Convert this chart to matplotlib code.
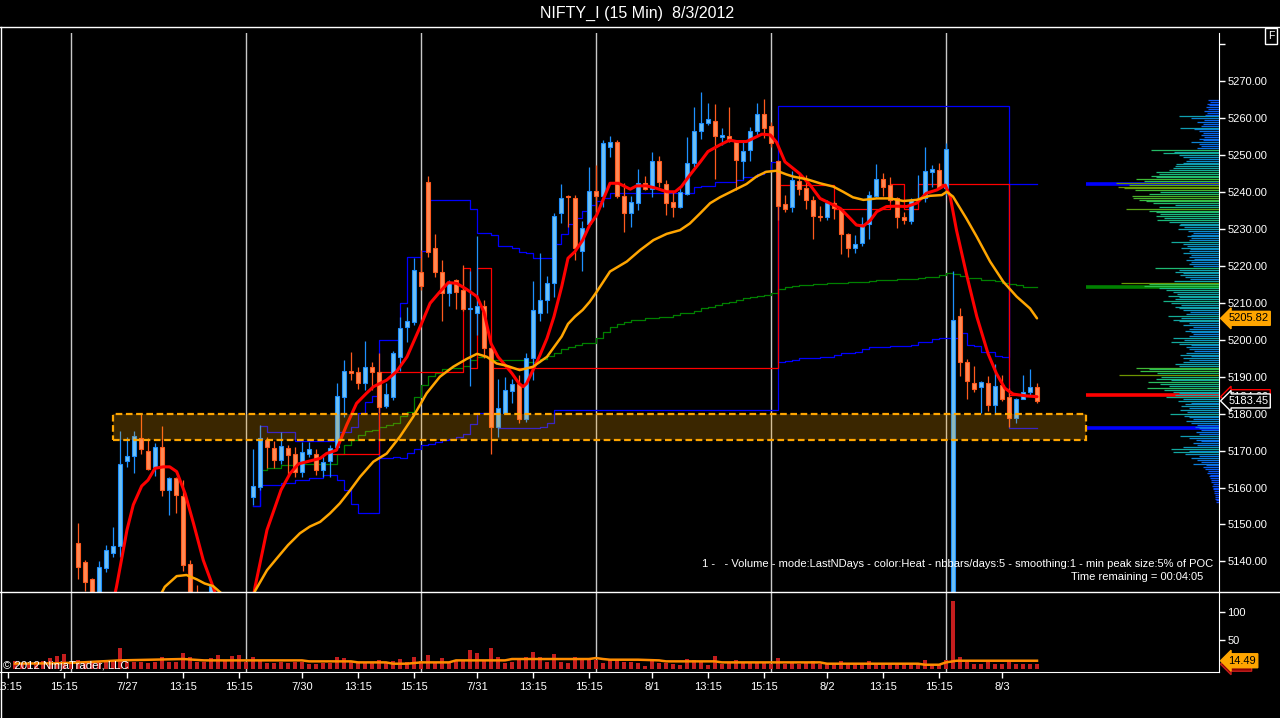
import numpy as np
import matplotlib
matplotlib.use('Agg')
import matplotlib.pyplot as plt
from matplotlib.patches import Rectangle
from matplotlib.lines import Line2D
from matplotlib.colors import LinearSegmentedColormap

plt.rcParams['font.family'] = ['Liberation Sans', 'DejaVu Sans']

# ---------------- data ----------------
# bar index: 0 = 15:30 bar of 7/26, each session has 25 bars (9:30 .. 15:30)
bar_n = list(range(-8, 139))

opens = [5120, 5118, 5119, 5121, 5119, 5124, 5122, 5125, 5123,
         5144.9, 5139.9, 5135.1, 5130.0, 5138.3, 5142.3, 5144.1, 5167.3, 5168.4, 5173.3,
         5170.0, 5165.5, 5171.1, 5159.2, 5162.5, 5157.6, 5139.2, 5129.5, 5126.0, 5124.0,
         5131.0, 5124.0, 5121.0, 5123.0, 5120.0, 5157.3, 5160.2, 5173.0, 5170.6, 5167.4,
         5170.6, 5169.1, 5164.1, 5169.2, 5169.1, 5164.7, 5167.3, 5170.9, 5184.4, 5191.6,
         5191.2, 5188.4, 5192.7, 5191.4, 5182.2, 5184.4, 5195.4, 5203.4, 5204.9, 5218.3,
         5242.8, 5224.8, 5218.3, 5212.6, 5216.2, 5213.5, 5208.3, 5207.2, 5209.2, 5197.7,
         5176.3, 5180.3, 5186.2, 5188.0, 5178.5, 5195.2, 5207.2, 5210.8, 5215.3, 5234.4,
         5239.0, 5238.3, 5224.1, 5231.4, 5240.3, 5238.9, 5252.1, 5253.7, 5239.0, 5234.3,
         5237.1, 5242.4, 5240.8, 5248.4, 5242.2, 5237.2, 5236.1, 5239.5, 5247.8, 5256.6,
         5258.6, 5259.4, 5255.0, 5255.3, 5253.9, 5248.4, 5251.4, 5256.6, 5261.1, 5258.0,
         5248.4, 5236.8, 5235.9, 5243.0, 5241.0, 5238.0, 5233.5, 5233.2, 5237.1, 5235.3,
         5228.6, 5225.0, 5226.1, 5231.3, 5239.0, 5243.5, 5241.8, 5238.3, 5233.2, 5232.2,
         5237.8, 5238.3, 5245.4, 5246.0, 5241.2, 5122.0, 5206.4, 5193.9, 5188.2, 5187.3,
         5188.2, 5182.3, 5187.8, 5184.4, 5178.7, 5184.1, 5185.9, 5187.1]
highs = [5123, 5121, 5122, 5124, 5125, 5127, 5126, 5128, 5127,
         5150.3, 5140.5, 5135.6, 5140.1, 5144.4, 5149.3, 5175.3, 5173.8, 5175.2, 5180.1,
         5173.3, 5172.0, 5176.6, 5162.8, 5162.8, 5162.0, 5140.4, 5133.5, 5129.0, 5133.6,
         5131.5, 5127.0, 5125.0, 5126.0, 5124.0, 5170.4, 5176.9, 5173.6, 5172.7, 5175.1,
         5171.5, 5171.1, 5172.4, 5172.4, 5170.3, 5169.2, 5171.5, 5188.4, 5194.5, 5196.8,
         5192.7, 5199.7, 5194.1, 5196.5, 5188.2, 5197.0, 5206.3, 5209.0, 5222.2, 5224.3,
         5244.4, 5228.7, 5221.6, 5216.2, 5216.6, 5220.3, 5218.7, 5228.1, 5210.8, 5198.0,
         5189.3, 5189.8, 5189.3, 5190.5, 5196.5, 5216.0, 5223.4, 5217.3, 5234.4, 5242.2,
         5239.2, 5239.2, 5232.3, 5246.7, 5247.3, 5254.1, 5255.2, 5254.0, 5242.6, 5238.9,
         5246.2, 5244.4, 5251.0, 5249.8, 5243.3, 5240.1, 5241.3, 5254.8, 5263.0, 5267.0,
         5264.2, 5263.9, 5257.5, 5263.0, 5254.2, 5253.9, 5257.7, 5264.1, 5265.2, 5259.1,
         5248.8, 5239.2, 5245.7, 5245.1, 5244.6, 5238.9, 5236.2, 5238.0, 5237.5, 5235.6,
         5228.8, 5228.4, 5233.4, 5240.3, 5247.6, 5245.1, 5244.0, 5238.8, 5234.7, 5238.3,
         5244.6, 5252.1, 5247.3, 5248.0, 5253.2, 5218.6, 5208.5, 5194.7, 5192.9, 5188.8,
         5190.2, 5193.4, 5190.5, 5186.9, 5184.3, 5190.5, 5192.0, 5188.2]
lows = [5116, 5115, 5117, 5118, 5118, 5121, 5119, 5121, 5120,
        5135.2, 5132.0, 5127.5, 5128.5, 5137.2, 5141.3, 5141.3, 5165.5, 5163.8, 5169.2,
        5164.7, 5163.2, 5157.8, 5152.5, 5153.2, 5137.5, 5127.0, 5124.0, 5121.0, 5122.0,
        5122.0, 5119.0, 5117.0, 5118.0, 5116.0, 5155.2, 5159.3, 5165.3, 5165.2, 5166.5,
        5163.4, 5162.9, 5162.9, 5168.3, 5163.4, 5162.9, 5162.9, 5170.2, 5179.0, 5189.1,
        5186.6, 5186.4, 5186.4, 5180.1, 5181.4, 5183.7, 5191.6, 5199.5, 5204.0, 5213.5,
        5222.5, 5217.1, 5205.2, 5209.2, 5208.3, 5207.8, 5187.6, 5201.3, 5195.2, 5169.0,
        5173.6, 5180.1, 5182.8, 5177.4, 5177.8, 5189.0, 5205.2, 5207.4, 5211.5, 5231.7,
        5230.6, 5221.6, 5218.7, 5230.5, 5235.0, 5236.1, 5249.6, 5238.5, 5229.3, 5230.6,
        5235.2, 5240.5, 5238.6, 5241.5, 5233.8, 5233.2, 5235.6, 5239.2, 5246.9, 5254.3,
        5258.2, 5243.5, 5252.8, 5253.7, 5240.6, 5243.5, 5248.5, 5255.5, 5254.6, 5252.3,
        5232.4, 5234.7, 5234.7, 5239.2, 5235.3, 5227.2, 5232.3, 5232.4, 5232.6, 5223.2,
        5222.3, 5223.4, 5225.4, 5227.2, 5238.3, 5238.9, 5237.4, 5230.2, 5231.5, 5231.3,
        5237.5, 5237.4, 5241.5, 5240.8, 5239.2, 5115.0, 5190.2, 5184.1, 5186.0, 5180.3,
        5180.8, 5180.3, 5183.5, 5176.5, 5177.4, 5183.9, 5184.8, 5183.0]
closes = [5118, 5119, 5121, 5119, 5124, 5122, 5125, 5123, 5126,
          5138.4, 5134.3, 5129.5, 5138.4, 5143.0, 5144.1, 5166.5, 5168.4, 5174.0, 5170.3,
          5164.9, 5170.9, 5159.2, 5162.5, 5157.9, 5138.9, 5129.0, 5126.0, 5124.0, 5133.4,
          5124.0, 5121.0, 5123.0, 5120.0, 5122.0, 5160.4, 5173.3, 5171.0, 5167.4, 5171.3,
          5168.8, 5164.3, 5169.5, 5170.3, 5164.7, 5167.0, 5170.6, 5184.8, 5191.6, 5191.1,
          5188.2, 5192.7, 5191.4, 5181.9, 5185.2, 5196.3, 5203.1, 5205.2, 5218.9, 5214.7,
          5223.7, 5218.5, 5212.8, 5215.3, 5212.9, 5208.3, 5208.5, 5209.2, 5197.7, 5176.3,
          5181.4, 5186.4, 5188.0, 5178.5, 5195.2, 5208.2, 5210.8, 5215.3, 5233.5, 5238.3,
          5238.6, 5225.0, 5230.2, 5240.3, 5239.0, 5253.2, 5253.7, 5239.0, 5234.4, 5237.2,
          5242.4, 5240.8, 5248.4, 5242.8, 5237.1, 5236.1, 5240.1, 5247.8, 5256.6, 5258.6,
          5259.7, 5255.2, 5255.5, 5253.9, 5248.7, 5251.2, 5256.6, 5261.1, 5257.3, 5253.2,
          5236.3, 5235.5, 5243.3, 5240.8, 5238.0, 5233.6, 5233.3, 5237.0, 5235.6, 5228.6,
          5225.0, 5225.9, 5231.3, 5239.1, 5243.5, 5241.3, 5237.9, 5233.2, 5232.4, 5238.0,
          5237.9, 5245.7, 5246.2, 5241.0, 5251.6, 5205.4, 5194.1, 5188.9, 5186.6, 5188.5,
          5182.3, 5187.6, 5183.9, 5178.7, 5184.1, 5185.9, 5187.1, 5183.45]
volume = [14.3, 10, 9, 12, 14.3, 19.0, 22.5, 25.4, 12.0,
          16.6, 13.1, 10.8, 13.1, 11.9, 14.3, 36.5, 11.9, 13.1, 11.9,
          10.8, 11.9, 20.2, 11.9, 13.1, 27.2, 20.2, 11.9, 11.9, 19.0,
          23.7, 14.3, 22.5, 23.7, 13.1, 20.2, 16.6, 10.8, 10.8, 11.9,
          10.8, 11.9, 11.9, 8.4, 8.4, 10.8, 10.8, 20.7, 19.0, 13.1,
          10.8, 10.8, 13.1, 16.6, 11.9, 14.3, 17.8, 11.9, 20.2, 14.3,
          23.7, 13.1, 19.0, 11.9, 14.3, 16.6, 32.5, 28.4, 14.3, 36.5,
          20.7, 10.8, 13.1, 16.6, 20.7, 29.5, 20.7, 11.9, 25.4, 13.1,
          10.8, 20.7, 16.6, 17.8, 16.6, 10.8, 16.6, 16.6, 13.1, 11.9,
          10.8, 6.0, 14.9, 10.8, 10.8, 9.0, 7.2, 17.8, 16.6, 11.9,
          7.8, 21.9, 8.4, 13.1, 16.6, 11.9, 10.8, 10.8, 10.8, 8.4,
          18.4, 8.4, 10.8, 8.4, 13.1, 14.3, 9.6, 8.4, 8.4, 14.3,
          8.4, 8.4, 8.4, 14.3, 8.4, 8.4, 9.6, 8.4, 9.6, 8.4,
          8.4, 16.6, 8.4, 8.4, 16.6, 118.7, 20.2, 13.1, 9.6, 9.6,
          14.3, 9.6, 8.4, 13.1, 8.4, 8.4, 9.6, 8.4]

# volume moving average (orange line in lower panel)
vma_n = [-8, -2, 1.5, 7, 16, 19, 33, 34, 40, 41, 45, 46, 48, 50, 54, 55, 62, 63, 74, 75,
         76, 77, 81, 84, 85, 92, 93, 107, 108, 121, 122, 124, 125, 126.5, 138]
vma_v = [9.5, 10.0, 11.6, 15.1, 17.5, 15.1, 15.1, 13.4, 13.4, 11.6, 11.6, 9.3, 9.3, 11.6, 11.6,
         15.1, 15.1, 17.5, 17.5, 19.2, 17.5, 16.3, 16.3, 15.1, 13.4, 13.4, 11.6, 11.6, 9.3, 9.3,
         7.5, 7.5, 11.6, 14.49, 14.49]

# fast (red) and slow (orange) moving averages
red_n = [5.0, 6.5, 8.0, 8.9, 10.1, 11.0, 12.0, 13.2, 14.1, 15.1,
         16.3, 17.5, 18.9, 20.3, 21.5, 23.5, 25.0, 26.3, 28.0, 30.0,
         31.3, 32.5, 35.6, 36.5, 37.9, 39.4, 40.8, 42.2, 43.2, 45.1,
         46.5, 48.0, 49.9, 51.3, 52.7, 53.9, 55.1, 56.5, 58.0, 59.0,
         60.0, 61.0, 62.0, 63.0, 64.0, 64.6, 65.1, 66.0, 67.0, 68.0,
         69.0, 70.1, 71.0, 72.0, 73.1, 74.1, 75.1, 77.0, 78.2, 79.9,
         80.8, 82.2, 83.7, 85.1, 86.3, 87.2, 88.4, 89.9, 91.0, 92.7,
         94.1, 95.1, 96.5, 97.5, 98.7, 99.9, 100.8, 102.0, 104.1, 105.6,
         107.0, 108.4, 109.9, 111.3, 112.2, 113.2, 114.2, 115.1, 116.5, 117.9,
         119.4, 120.8, 122.2, 123.7, 124.9, 125.6, 126.5, 127.9, 129.4, 131.0,
         132.2, 133.4, 134.6, 136.5, 138.0]
red_p = [5120, 5133.1, 5148.5, 5155.3, 5160.4, 5162.0, 5165.2, 5165.6, 5165.6, 5164.3,
         5158.4, 5150.3, 5140.3, 5133.1, 5126.0, 5120.0, 5119.0, 5133.1, 5148.5, 5159.3,
         5163.8, 5166.4, 5167.9, 5169.2, 5170.1, 5177.0, 5182.8, 5185.5, 5187.3, 5189.1,
         5191.4, 5195.4, 5203.6, 5209.9, 5213.0, 5215.5, 5215.3, 5213.7, 5211.7, 5207.5,
         5199.0, 5195.4, 5193.2, 5190.9, 5188.2, 5187.3, 5188.2, 5191.8, 5195.9, 5200.4,
         5206.3, 5214.4, 5222.1, 5223.9, 5227.0, 5231.1, 5233.8, 5242.4, 5242.4, 5240.8,
         5241.7, 5241.7, 5241.0, 5240.1, 5240.1, 5241.5, 5244.6, 5248.2, 5251.0, 5252.8,
         5254.1, 5253.7, 5253.7, 5254.6, 5255.7, 5255.5, 5253.5, 5248.2, 5245.0, 5241.9,
         5238.3, 5237.0, 5235.6, 5232.9, 5231.1, 5230.8, 5232.4, 5234.7, 5236.1, 5236.2,
         5236.1, 5237.0, 5239.7, 5240.6, 5241.9, 5238.8, 5229.7, 5218.0, 5206.3, 5196.3,
         5190.9, 5186.9, 5185.3, 5184.8, 5184.6]
orange_n = [12.0, 13.4, 15.1, 16.5, 18.0, 19.1, 20.3, 22.0, 24.0, 25.5,
            26.3, 28.0, 29.4, 31.0, 32.7, 34.1, 35.6, 37.0, 38.4, 39.9,
            41.3, 43.2, 45.1, 47.0, 48.9, 50.8, 52.7, 54.6, 56.5, 58.0,
            59.4, 60.8, 62.2, 64.1, 66.0, 68.0, 70.1, 71.0, 72.0, 73.1,
            74.1, 75.1, 77.0, 79.4, 81.3, 83.2, 85.1, 87.0, 88.4, 89.9,
            91.3, 92.7, 94.6, 96.5, 97.9, 99.3, 100.8, 102.2, 103.2, 105.1,
            107.0, 108.9, 110.3, 111.7, 113.2, 115.1, 117.0, 118.9, 120.8, 122.7,
            124.4, 125.1, 126.0, 127.9, 129.4, 131.3, 133.2, 135.1, 137.0, 138.0]
orange_p = [5128.0, 5133.1, 5136.0, 5136.3, 5135.1, 5134.0, 5133.3, 5130.5, 5128.5, 5128.0,
            5132.0, 5137.6, 5140.8, 5144.4, 5147.6, 5149.4, 5150.7, 5153.0, 5155.7, 5159.3,
            5162.9, 5167.0, 5169.2, 5173.8, 5179.2, 5185.5, 5190.0, 5192.7, 5194.8, 5196.2,
            5195.4, 5193.6, 5193.0, 5191.8, 5192.7, 5195.4, 5200.9, 5204.3, 5206.3, 5208.1,
            5210.3, 5213.0, 5218.5, 5221.2, 5224.3, 5227.0, 5228.7, 5229.7, 5231.5, 5234.3,
            5237.0, 5238.6, 5240.4, 5242.2, 5244.2, 5245.5, 5245.8, 5244.8, 5244.2, 5243.5,
            5242.4, 5241.5, 5240.1, 5238.6, 5237.9, 5238.3, 5238.3, 5237.6, 5237.9, 5239.0,
            5239.2, 5240.1, 5238.8, 5232.9, 5227.9, 5221.2, 5215.7, 5211.7, 5208.5, 5205.82]

# step levels (value holds from its bar to the next break)
blue_a_n = [26, 27, 28, 32, 38, 40, 41, 42, 43, 44, 45, 46, 47, 48, 49, 50, 51, 52, 53, 54,
            55, 56, 57, 58, 61, 67, 68, 69, 101, 134, 138]
blue_a_v = [5155.0, 5176.6, 5175.1, 5172.6, 5175.1, 5176.3, 5180.3, 5183.2, 5184.8, 5167.9,
            5168.1, 5168.3, 5168.0, 5169.4, 5170.3, 5171.5, 5171.9, 5172.3, 5172.9, 5173.2,
            5173.8, 5174.5, 5177.1, 5180.3, 5176.0, 5176.5, 5177.6, 5181.0, 5263.3, 5176.0, 5176.0]
blue_b_n = [26, 27, 30, 32, 34, 36, 38, 39, 40, 41, 44, 47, 48, 50, 51, 57, 58, 60, 61, 63,
            64, 65, 66, 69, 70, 71, 72, 73, 74, 75, 76, 77, 89, 90, 92, 95, 96, 98, 99, 100,
            101, 102, 103, 104, 105, 107, 109, 110, 111, 112, 113, 114, 117, 120, 121, 123, 124, 127, 128, 129,
            130, 132, 133, 134, 138]
blue_b_v = [5155.0, 5160.7, 5161.3, 5162.0, 5162.5, 5163.5, 5162.0, 5159.3, 5155.5, 5153.1,
            5199.9, 5210.0, 5222.3, 5224.1, 5238.0, 5235.3, 5228.8, 5228.4, 5225.4, 5224.8,
            5223.9, 5223.4, 5222.1, 5226.0, 5228.7, 5231.4, 5233.0, 5235.0, 5236.5, 5237.5,
            5238.3, 5239.7, 5241.5, 5241.7, 5242.8, 5243.3, 5244.2, 5244.8, 5245.7, 5248.2,
            5194.1, 5194.3, 5194.5, 5195.0, 5195.2, 5195.4, 5195.9, 5196.3, 5196.5, 5196.8,
            5197.4, 5198.0, 5198.3, 5198.6, 5199.3, 5200.1, 5200.4, 5201.8, 5198.6, 5198.2,
            5196.8, 5195.6, 5195.4, 5242.1, 5242.1]
red_lvl_n = [37, 44, 56, 57, 58, 60, 101, 109, 117, 119, 121, 134, 138]
red_lvl_v = [5169.2, 5191.2, 5219.4, 5192.3, 5219.4, 5192.3, 5241.9, 5235.3, 5242.1, 5235.3,
             5242.1, 5185.0, 5185.0]
green_n = list(range(27, 139))
green_v = [5164.7, 5165.2, 5165.2, 5166.0, 5166.0, 5166.5, 5166.5, 5166.5, 5166.5, 5166.5,
           5166.5, 5169.1, 5171.5, 5173.0, 5174.2, 5175.3, 5175.7, 5176.5, 5176.9, 5177.4,
           5179.3, 5180.5, 5184.4, 5187.7, 5190.2, 5191.1, 5192.0, 5192.3, 5192.3, 5192.9,
           5194.4, 5195.4, 5195.4, 5194.5, 5194.5, 5194.5, 5194.5, 5194.5, 5194.1, 5194.1,
           5194.7, 5195.6, 5196.5, 5197.4, 5198.1, 5198.6, 5199.2, 5199.2, 5200.4, 5202.2,
           5203.6, 5204.3, 5204.9, 5205.4, 5205.5, 5205.8, 5205.8, 5206.3, 5206.3, 5206.7,
           5207.2, 5207.4, 5207.9, 5208.5, 5209.0, 5209.4, 5210.1, 5210.3, 5210.8, 5211.2,
           5211.7, 5211.9, 5212.1, 5212.8, 5213.7, 5214.2, 5214.6, 5214.8, 5214.8, 5215.1,
           5215.1, 5215.3, 5215.3, 5215.3, 5215.6, 5215.6, 5215.6, 5216.0, 5216.2, 5216.2,
           5216.2, 5216.4, 5216.4, 5216.4, 5216.7, 5217.1, 5217.1, 5217.6, 5218.0, 5217.8,
           5217.3, 5216.7, 5216.7, 5216.2, 5216.2, 5216.0, 5215.5, 5215.1, 5214.8, 5214.4,
           5214.2, 5214.2]

# support zone (dashed box)
zone_lo, zone_hi = 5172.9, 5180.0
zone_start, zone_end = 6, 145

# volume profile: one value per 0.5 point, from 5156.0 upward
profile_low = 5156.0
profile_step = 0.5
profile_vol = [3, 3, 4, 4, 4, 5, 5, 6, 6, 7,
               6, 8, 8, 9, 10, 9, 12, 11, 14, 16,
               13, 26, 18, 22, 28, 20, 34, 46, 30, 48,
               36, 22, 26, 18, 23, 30, 39, 20, 23, 18,
               20, 24, 22, 28, 33, 26, 30, 35, 49, 32,
               39, 30, 38, 34, 28, 41, 36, 53, 44, 40,
               46, 55, 72, 50, 59, 71, 48, 63, 58, 100,
               62, 79, 70, 83, 40, 44, 36, 30, 36, 28,
               39, 33, 25, 30, 33, 28, 40, 48, 35, 46,
               30, 26, 28, 34, 30, 26, 36, 30, 40, 46,
               38, 51, 33, 29, 36, 40, 44, 38, 48, 56,
               44, 40, 51, 42, 46, 53, 60, 75, 70, 98,
               45, 29, 34, 39, 36, 44, 40, 64, 26, 30,
               28, 33, 25, 30, 28, 36, 30, 29, 38, 32,
               36, 48, 30, 28, 32, 28, 26, 31, 41, 35,
               40, 39, 50, 62, 55, 63, 59, 63, 70, 93,
               60, 44, 66, 73, 80, 86, 87, 70, 59, 84,
               95, 101, 90, 103, 75, 83, 63, 68, 60, 63,
               50, 46, 44, 43, 36, 33, 30, 36, 40, 56,
               45, 68, 22, 18, 20, 28, 16, 20, 15, 18,
               16, 20, 25, 39, 18, 16, 22, 15, 28, 40,
               14, 12, 15, 11, 13, 10, 12, 9, 11]

# axes labels
price_ticks = [5140, 5150, 5160, 5170, 5180, 5190, 5200, 5210, 5220, 5230, 5240, 5250, 5260, 5270, 5280]
vol_ticks = [50, 100]
time_ticks = [-9, -1, 8, 16, 24, 33, 41, 49, 58, 66, 74, 83, 91, 99, 108, 116, 124, 133]
time_labels = ['13:15', '15:15', '7/27', '13:15', '15:15', '7/30', '13:15', '15:15', '7/31', '13:15',
               '15:15', '8/1', '13:15', '15:15', '8/2', '13:15', '15:15', '8/3']
session_ends = [0, 25, 50, 75, 100, 125]

# ---------------- figure ----------------
PX_W, PX_H = 1280.0, 718.0


def px_box(x0, y0, x1, y1):
    return [x0 / PX_W, 1 - y1 / PX_H, (x1 - x0) / PX_W, (y1 - y0) / PX_H]


fig = plt.figure(figsize=(12.8, 7.18), dpi=100, facecolor='black')
ax = fig.add_axes(px_box(0, 33, 1219, 592))
axv = fig.add_axes(px_box(0, 592, 1219, 672), sharex=ax)

for a in (ax, axv):
    a.set_facecolor('black')
    for s in ('left', 'top', 'bottom'):
        a.spines[s].set_visible(False)
    a.spines['right'].set_color('white')
    a.yaxis.tick_right()
    a.tick_params(axis='y', colors='white', direction='out', length=4, width=1, labelsize=8, pad=2)
axv.spines['bottom'].set_visible(True)
axv.spines['bottom'].set_color('white')
ax.tick_params(axis='x', bottom=False, labelbottom=False)
axv.tick_params(axis='x', colors='white', direction='out', length=4, width=1, labelsize=8, pad=3)

ax.set_xlim(-10.14, 164.0)
ax.set_ylim(5131.7, 5283.1)
axv.set_ylim(-5.2, 134.6)

ax.set_yticks(price_ticks)
ax.set_yticklabels(['%.2f' % v if v < 5280 else '' for v in price_ticks])
axv.set_yticks(vol_ticks)
axv.set_yticklabels([str(v) for v in vol_ticks])
axv.set_xticks(time_ticks)
axv.set_xticklabels(time_labels)

for s in session_ends:
    ax.axvline(s, color='#c8c8c8', lw=1, zorder=1)
    axv.axvline(s, color='#c8c8c8', lw=1, zorder=1)

# step levels
ax.plot(blue_a_n, blue_a_v, drawstyle='steps-post', color='#0000ff', lw=0.9, zorder=2)
ax.plot(blue_b_n, blue_b_v, drawstyle='steps-post', color='#0000ff', lw=0.9, zorder=2)
ax.plot(green_n, green_v, drawstyle='steps-post', color='#008000', lw=0.9, zorder=2)
ax.plot(red_lvl_n, red_lvl_v, drawstyle='steps-post', color='#ff0000', lw=0.9, zorder=2)

# candles
n = np.array(bar_n)
o = np.array(opens)
h = np.array(highs)
l = np.array(lows)
c = np.array(closes)
up = c >= o
edge = np.where(up, '#1e90ff', '#ff5a1e')
face = np.where(up, '#6ec0f4', '#ff8a55')
ax.vlines(n, l, h, colors=edge, lw=0.9, zorder=3)
ax.bar(n, np.abs(c - o), bottom=np.minimum(o, c), width=0.7, color=face,
       edgecolor=edge, linewidth=0.8, zorder=3.5)

# moving averages
ax.plot(red_n, red_p, color='#ff0000', lw=2.2, zorder=4, solid_capstyle='round')
ax.plot(orange_n, orange_p, color='#ffa500', lw=1.8, zorder=4, solid_capstyle='round')

# zone
ax.add_patch(Rectangle((zone_start, zone_lo), zone_end - zone_start, zone_hi - zone_lo,
                       facecolor='#ffa500', alpha=0.23, edgecolor='none', zorder=5))
ax.add_patch(Rectangle((zone_start, zone_lo), zone_end - zone_start, zone_hi - zone_lo,
                       fill=False, edgecolor='#ffa500', lw=1.6, linestyle=(0, (3, 1.6)), zorder=6))

# current levels extended into the profile area
x_right = ax.get_xlim()[1]
ax.hlines(blue_b_v[-1], zone_end, x_right, color='#0000ff', lw=2.6, zorder=2)
ax.hlines(green_v[-1], zone_end, x_right, color='#008000', lw=2.6, zorder=2)
ax.hlines(red_lvl_v[-1], zone_end, x_right, color='#ff0000', lw=2.6, zorder=2)
ax.hlines(blue_a_v[-1], zone_end, x_right, color='#0000ff', lw=2.6, zorder=2)

# volume profile on its own x scale (0 at the price axis)
ax_p = ax.twiny()
ax_p.set_xlim(1219, 0)
ax_p.set_axis_off()
heat = LinearSegmentedColormap.from_list(
    'heat', ['#0a3cff', '#0a70e8', '#10a0b0', '#18b880', '#38c040', '#6e9400'])
pv = np.array(profile_vol, dtype=float)
pl = profile_low + profile_step * np.arange(len(pv))
ax_p.hlines(pl, 0, pv, colors=heat(np.clip(pv / 100.0, 0, 1)), lw=0.9)

# volume panel
axv.bar(n, volume, width=0.45, color='#c41e1e', zorder=2)
axv.plot(vma_n, vma_v, color='#ff8c00', lw=1.8, zorder=3)


# value tags on the right axis
def tag(a, y, txt, fc, ec, tc):
    a.text(1.0075, y, txt, transform=a.get_yaxis_transform(), ha='left', va='center',
           fontsize=8, color=tc, zorder=20, clip_on=False,
           bbox=dict(boxstyle='larrow,pad=0.18', fc=fc, ec=ec, lw=1))


tag(ax, red_p[-1], '%.2f' % red_p[-1], 'black', '#ff0000', 'white')
tag(ax, closes[-1], '%.2f' % closes[-1], 'black', 'white', 'white')
tag(ax, orange_p[-1], '%.2f' % orange_p[-1], '#ffa500', '#ffa500', 'black')
tag(axv, volume[-1], '%.2f' % volume[-1], '#8b0000', '#c41e1e', 'white')
tag(axv, vma_v[-1], '%.2f' % vma_v[-1], '#ffa500', '#ffa500', 'black')

# texts and frame
fig.text(637 / PX_W, 1 - 13 / PX_H, 'NIFTY_I (15 Min)  8/3/2012', ha='center', va='center',
         color='white', fontsize=11.5)
fig.text(1271 / PX_W, 1 - 36 / PX_H, 'F', ha='center', va='center', color='white', fontsize=7.5,
         bbox=dict(boxstyle='square,pad=0.25', fc='black', ec='white', lw=1))
fig.text(1213 / PX_W, 1 - 564 / PX_H,
         '1 -   - Volume - mode:LastNDays - color:Heat - nbbars/days:5 - smoothing:1 - min peak size:5% of POC',
         ha='right', va='center', color='white', fontsize=8)
fig.text(1203 / PX_W, 1 - 577 / PX_H, 'Time remaining = 00:04:05', ha='right', va='center',
         color='white', fontsize=8)
fig.text(3 / PX_W, 1 - 666 / PX_H, '\u00a9 2012 NinjaTrader, LLC', ha='left', va='center',
         color='white', fontsize=8.2, zorder=20)

fig.add_artist(Line2D([0, 1], [1 - 27 / PX_H] * 2, color='white', lw=1))
fig.add_artist(Line2D([0, 1], [1 - 592 / PX_H] * 2, color='white', lw=1))
fig.add_artist(Line2D([1 / PX_W] * 2, [0, 1 - 27 / PX_H], color='white', lw=1))

fig.savefig('out.png', dpi=100, facecolor='black')
